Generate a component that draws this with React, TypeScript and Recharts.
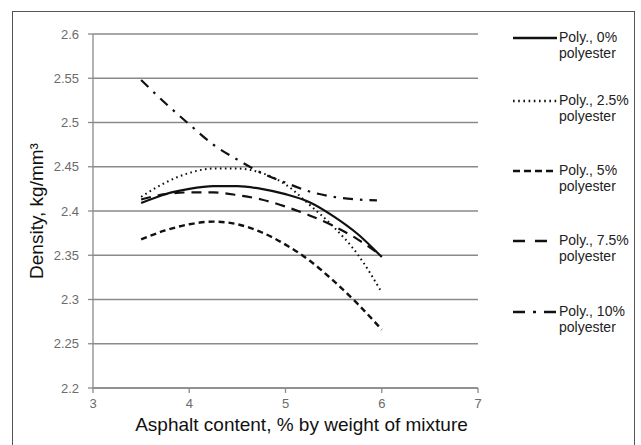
import React from 'react';
import { LineChart, Line, XAxis, YAxis, CartesianGrid } from 'recharts';

const asphalt = [3.5, 3.75, 4, 4.25, 4.5, 4.75, 5, 5.25, 5.5, 5.75, 6];
const asphalt10 = [3.5, 3.75, 4, 4.25, 4.5, 4.75, 5, 5.25, 5.5, 5.75, 5.95];

const poly0 = [2.409, 2.419, 2.425, 2.428, 2.428, 2.425, 2.419, 2.41, 2.394, 2.374, 2.348];
const poly25 = [2.416, 2.432, 2.443, 2.448, 2.448, 2.443, 2.43, 2.407, 2.382, 2.351, 2.308];
const poly5 = [2.368, 2.378, 2.385, 2.388, 2.385, 2.376, 2.362, 2.344, 2.321, 2.295, 2.266];
const poly75 = [2.413, 2.419, 2.421, 2.421, 2.418, 2.413, 2.405, 2.395, 2.383, 2.368, 2.349];
const poly10 = [2.548, 2.522, 2.498, 2.475, 2.458, 2.443, 2.432, 2.422, 2.416, 2.413, 2.412];

const seriesNames = ['Poly., 0%', 'Poly., 2.5%', 'Poly., 5%', 'Poly., 7.5%', 'Poly., 10%'];
const seriesSub = 'polyester';

const xTicks = [3, 4, 5, 6, 7];
const yTicks = [2.2, 2.25, 2.3, 2.35, 2.4, 2.45, 2.5, 2.55, 2.6];

const build = (xs: number[], ys: number[]) => xs.map((x, i) => ({ x, y: ys[i] }));

const series = [
  { name: seriesNames[0], data: build(asphalt, poly0), dash: undefined as string | undefined, width: 2.2, legendDash: undefined as string | undefined },
  { name: seriesNames[1], data: build(asphalt, poly25), dash: '1.6 3.4', width: 2, legendDash: '1.6 3.6' },
  { name: seriesNames[2], data: build(asphalt, poly5), dash: '6 4', width: 2.4, legendDash: '7 4' },
  { name: seriesNames[3], data: build(asphalt, poly75), dash: '10 7', width: 2.2, legendDash: '12 10' },
  { name: seriesNames[4], data: build(asphalt10, poly10), dash: '10 7 2.5 7', width: 2.2, legendDash: '12 8 3 8' },
];

const legendY = [38, 101, 171, 241, 312];
const font = 'Liberation Sans, Arial, sans-serif';

export default function App() {
  return (
    <div style={{ position: 'absolute', left: 0, top: 0, width: 641, height: 445, overflow: 'hidden', background: '#fff' }}>
      <div
        style={{
          position: 'absolute',
          left: 12,
          top: 11,
          width: 623,
          height: 460,
          border: '1.5px solid #555',
          boxSizing: 'border-box',
        }}
      />
      <div style={{ position: 'absolute', left: 0, top: 0 }}>
        <LineChart width={641} height={445} margin={{ top: 34, right: 163, bottom: 0, left: 0 }}>
          <CartesianGrid vertical={false} stroke="#8a8a8a" strokeWidth={1.3} />
          <XAxis
            type="number"
            dataKey="x"
            domain={[3, 7]}
            ticks={xTicks}
            height={57}
            tickSize={5}
            tickMargin={6}
            axisLine={{ stroke: '#8a8a8a', strokeWidth: 1.3 }}
            tickLine={{ stroke: '#8a8a8a', strokeWidth: 1.3 }}
            tick={{ fill: '#6b6b6b', fontSize: 13, fontFamily: font }}
            allowDuplicatedCategory={false}
            label={{
              value: 'Asphalt content, % by weight of mixture',
              position: 'insideBottom',
              offset: 14,
              dx: 16,
              style: { fill: '#111', fontSize: 19, fontFamily: font },
            }}
          />
          <YAxis
            type="number"
            domain={[2.2, 2.6]}
            ticks={yTicks}
            width={93}
            tickSize={5}
            tickMargin={9}
            axisLine={{ stroke: '#8a8a8a', strokeWidth: 1.3 }}
            tickLine={{ stroke: '#8a8a8a', strokeWidth: 1.3 }}
            tick={{ fill: '#6b6b6b', fontSize: 13, fontFamily: font }}
            label={{
              value: 'Density, kg/mm³',
              angle: -90,
              position: 'insideLeft',
              offset: 36,
              style: { textAnchor: 'middle', fill: '#111', fontSize: 19, fontFamily: font },
            }}
          />
          {series.map((s) => (
            <Line
              key={s.name}
              data={s.data}
              dataKey="y"
              type="monotone"
              stroke="#111"
              strokeWidth={s.width}
              strokeDasharray={s.dash}
              dot={false}
              activeDot={false}
              isAnimationActive={false}
            />
          ))}
        </LineChart>
      </div>
      <div style={{ position: 'absolute', left: 0, top: 0, width: 641, height: 445, pointerEvents: 'none' }}>
        {series.map((s, i) => (
          <div key={s.name} style={{ position: 'absolute', left: 512, top: legendY[i] - 9 }}>
            <svg width={46} height={18} style={{ position: 'absolute', left: 0, top: 0 }}>
              <line x1={1} y1={9} x2={45} y2={9} stroke="#111" strokeWidth={s.width + 0.3} strokeDasharray={s.legendDash} />
            </svg>
            <div
              style={{
                position: 'absolute',
                left: 47,
                top: 0,
                width: 90,
                fontFamily: font,
                fontSize: 14,
                lineHeight: '16.4px',
                color: '#222',
                whiteSpace: 'nowrap',
              }}
            >
              <div>{s.name}</div>
              <div>{seriesSub}</div>
            </div>
          </div>
        ))}
      </div>
    </div>
  );
}
